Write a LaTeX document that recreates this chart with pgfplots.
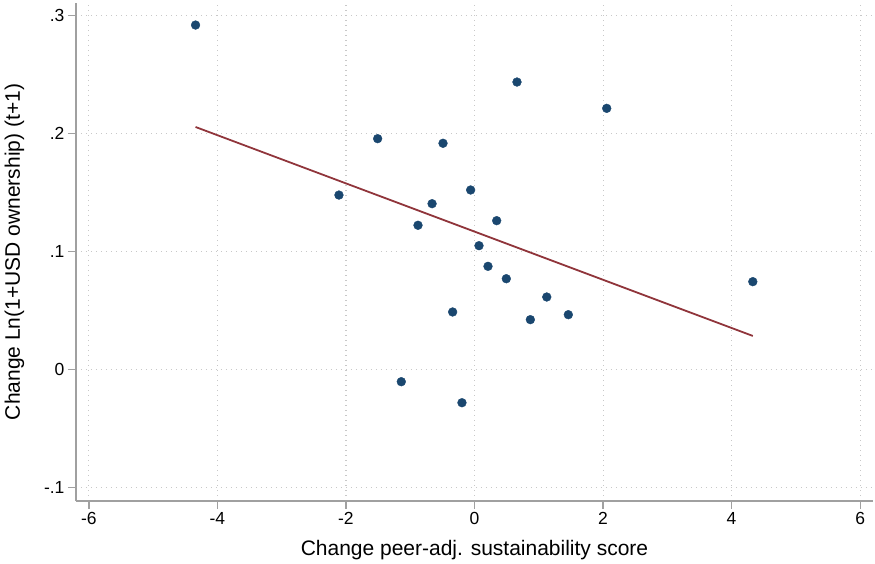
\documentclass[border=0pt]{standalone}
\usepackage{fontspec}
\setmainfont{Liberation Sans}
\usepackage{pgfplots}
\pgfplotsset{compat=1.18}
\definecolor{snavy}{HTML}{1A476F}
\definecolor{smaroon}{HTML}{90353B}
\definecolor{axgray}{RGB}{160,160,160}
\definecolor{gridgray}{RGB}{200,200,200}
\begin{document}
\begin{tikzpicture}
\begin{axis}[
  scale only axis,
  width=797pt, height=498pt,
  xmin=-6.2, xmax=6.2, ymin=-0.1113, ymax=0.3108,
  axis lines*=left,
  axis line style={axgray, line width=1.3pt},
  xtick={-6,-4,-2,0,2,4,6},
  xticklabels={-6,-4,-2,0,2,4,6},
  ytick={-0.1,0,0.1,0.2,0.3},
  yticklabels={-.1,0,.1,.2,.3},
  tick style={axgray, line width=1.3pt},
  tick align=outside,
  major tick length=8pt,
  grid=major,
  grid style={gridgray, line width=1.1pt, dash pattern=on 1.1pt off 3.9pt},
  ticklabel style={font=\fontsize{17.5}{19}\selectfont},
  /pgf/number format/assume math mode=true,
  xlabel={Change peer-adj. sustainability score},
  ylabel={Change Ln(1+USD ownership) (t+1)},
  label style={font=\fontsize{21}{23}\selectfont},
  xlabel style={at={(axis description cs:0.5,0)}, anchor=base, yshift=-55pt},
  ylabel style={at={(axis description cs:0,0.5)}, anchor=base, yshift=56pt},
  clip=false,
]
\addplot[only marks, mark=*, mark size=4.4pt, color=snavy, mark options={fill=snavy, draw=snavy}] coordinates {
(-4.34,0.2921)
(0.661,0.2438)
(2.057,0.2215)
(-1.507,0.1958)
(-0.49,0.1919)
(-2.109,0.148)
(-0.06,0.1523)
(-0.66,0.1407)
(-0.879,0.1224)
(0.345,0.1263)
(0.07,0.1051)
(0.21,0.0876)
(0.495,0.0771)
(1.124,0.0616)
(1.46,0.0466)
(0.869,0.0424)
(-0.34,0.0489)
(-1.139,-0.0102)
(-0.195,-0.028)
(4.33,0.0746)
};
\addplot[smaroon, line width=1.8pt, no marks] coordinates {
(-4.34,0.2057)
(4.33,0.0286)
};
\end{axis}
\path ([xshift=-76pt,yshift=-59pt]current axis.south west) rectangle ([xshift=2pt,yshift=3pt]current axis.north east);
\end{tikzpicture}
\end{document}
